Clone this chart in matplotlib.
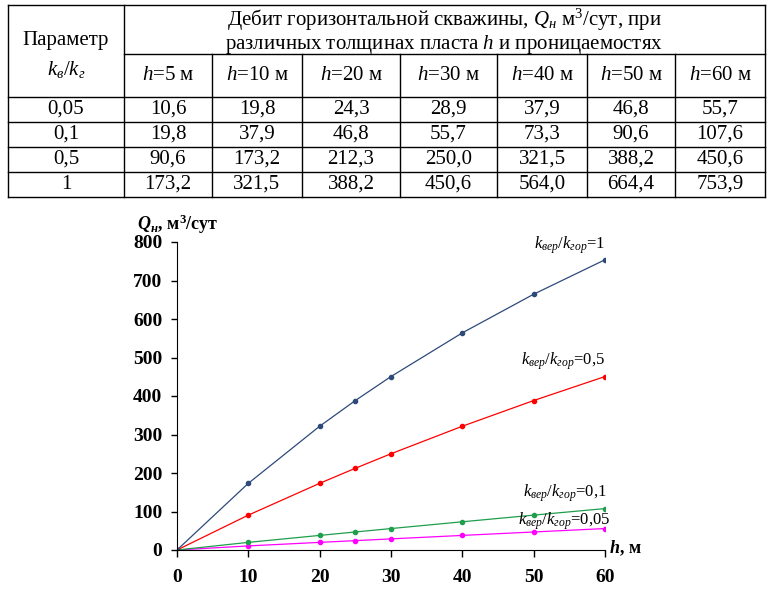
import matplotlib
matplotlib.use("Agg")
import matplotlib.pyplot as plt

plt.rcParams["font.family"] = ["Liberation Serif", "DejaVu Serif"]
plt.rcParams["mathtext.fontset"] = "custom"
plt.rcParams["mathtext.rm"] = "Liberation Serif"
plt.rcParams["mathtext.it"] = "Liberation Serif:italic"
plt.rcParams["mathtext.bf"] = "Liberation Serif:bold"
plt.rcParams["mathtext.bfit"] = "Liberation Serif:italic:bold"

# data
h_table = [5, 10, 20, 30, 40, 50, 60]
params = ["0,05", "0,1", "0,5", "1"]
q_005 = [10.6, 19.8, 24.3, 28.9, 37.9, 46.8, 55.7]
q_01 = [19.8, 37.9, 46.8, 55.7, 73.3, 90.6, 107.6]
q_05 = [90.6, 173.2, 212.3, 250.0, 321.5, 388.2, 450.6]
q_1 = [173.2, 321.5, 388.2, 450.6, 564.0, 664.4, 753.9]

# x positions used on the chart
h_plot = [0, 10, 20, 25, 30, 40, 50, 60]

rows = [q_005, q_01, q_05, q_1]
colors = ["#ff00ff", "#1f9e4c", "#ff0000", "#2e4a7a"]
labels = ["0,05", "0,1", "0,5", "1"]

fig = plt.figure(figsize=(7.74, 6.02), dpi=100)

# ---- table ----
tax = fig.add_axes([0, 0, 1, 1])
tax.set_xlim(0, 774)
tax.set_ylim(602, 0)
tax.axis("off")

col_x = [8, 124, 212, 302, 400, 497, 587, 675, 765]
row_y = [5, 54, 97, 122, 147, 172, 197]
lw = 1.0
for x in [col_x[0], col_x[1], col_x[-1]]:
    tax.plot([x, x], [row_y[0], row_y[-1]], color="black", lw=lw)
for x in col_x[2:-1]:
    tax.plot([x, x], [row_y[1], row_y[-1]], color="black", lw=lw)
tax.plot([col_x[0], col_x[-1]], [row_y[0], row_y[0]], color="black", lw=lw)
tax.plot([col_x[1], col_x[-1]], [row_y[1], row_y[1]], color="black", lw=lw)
for y in row_y[2:]:
    tax.plot([col_x[0], col_x[-1]], [y, y], color="black", lw=lw)

fs = 15
tax.text(66, 41, "Параметр", ha="center", va="center", fontsize=fs)
tax.text(66, 70, r"$k_в/k_г$", ha="center", va="center", fontsize=fs)
tax.text(444, 20, r"Дебит горизонтальной скважины, $Q_н$ м$^3$/сут, при",
         ha="center", va="center", fontsize=fs)
tax.text(444, 45, r"различных толщинах пласта $h$ и проницаемостях",
         ha="center", va="center", fontsize=fs)
for j, h in enumerate(h_table):
    cx = (col_x[j + 1] + col_x[j + 2]) / 2
    tax.text(cx, 76, r"$h$=%d м" % h, ha="center", va="center", fontsize=fs)
for i, (p, row) in enumerate(zip(params, rows)):
    cy = (row_y[i + 2] + row_y[i + 3]) / 2
    tax.text(66, cy, p, ha="center", va="center", fontsize=fs)
    for j, v in enumerate(row):
        cx = (col_x[j + 1] + col_x[j + 2]) / 2
        tax.text(cx, cy, f"{v:.1f}".replace(".", ","), ha="center", va="center", fontsize=fs)

# ---- chart ----
ax = fig.add_axes([177 / 774, 52 / 602, 428 / 774, 308 / 602])
for row, c, lab in zip(rows, colors, labels):
    ax.plot(h_plot, [0] + row, color=c, lw=0.9, marker="o", markersize=3)

ax.set_xlim(0, 60)
ax.set_ylim(0, 800)
ax.set_xticks(range(0, 61, 10))
ax.set_yticks(range(0, 801, 100))
ax.spines["top"].set_visible(False)
ax.spines["right"].set_visible(False)
ax.tick_params(axis="x", direction="out", length=5, width=1, pad=9, labelsize=14)
ax.tick_params(axis="y", direction="out", length=4.5, width=1, pad=6, labelsize=14)
for t in ax.get_xticklabels() + ax.get_yticklabels():
    t.set_fontweight("bold")

# curve labels
ann = [
    ("1", q_1[-1], (0, 3), "right", "bottom"),
    ("0,5", q_05[-1], (0, 3), "right", "bottom"),
    ("0,1", q_01[-1], (1, 3), "right", "bottom"),
    ("0,05", q_005[-1], (4, 5), "right", "center"),
]
for lab, yv, off, ha, va in ann:
    ax.annotate(r"$k_{вер}/k_{гор}$=" + lab, xy=(60, yv), xytext=off,
                textcoords="offset points", ha=ha, va=va, fontsize=12,
                annotation_clip=False)

ax.annotate(r"$\mathbfit{h}$, м", xy=(60, 0), xytext=(3, 1), textcoords="offset points",
            ha="left", va="center", fontsize=13, fontweight="bold", annotation_clip=False)
fig.text(137 / 774, 1 - 224 / 602, r"$\mathbfit{Q}_{\mathbfit{н}}$, м$^\mathbf{3}$/сут",
         ha="left", va="center", fontsize=13, fontweight="bold")

fig.savefig("out.png", dpi=100)
